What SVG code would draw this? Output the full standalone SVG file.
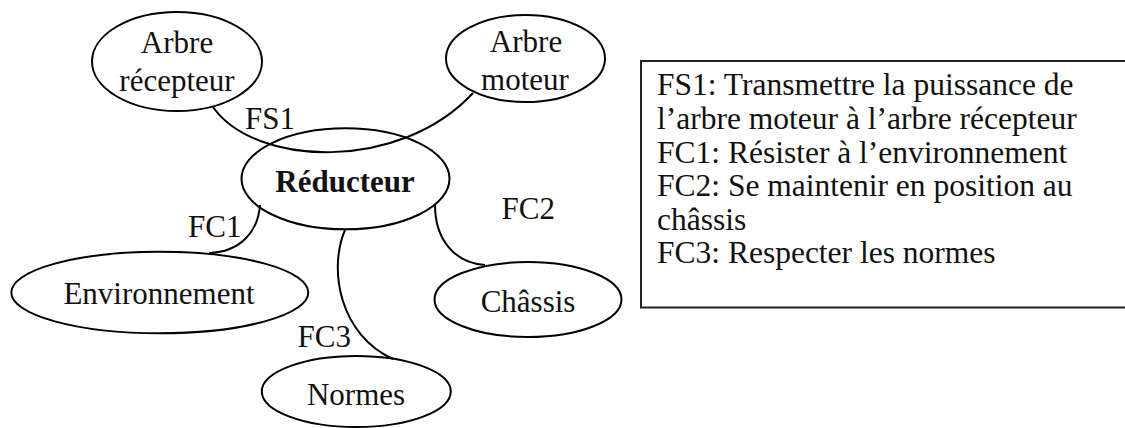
<svg xmlns="http://www.w3.org/2000/svg" width="1125" height="428" viewBox="0 0 1125 428">
<style>
.n{fill:#fff;stroke:#000;stroke-width:2}
.c{fill:none;stroke:#000;stroke-width:2}
text{font-family:"Liberation Serif","Times New Roman",serif;font-size:31px;fill:#111}
.m{text-anchor:middle}
.b{font-weight:bold}
.l{font-size:31.5px}
</style>
<rect width="1125" height="428" fill="#fff"/>
<g id="node-arbre-recepteur">
<ellipse class="n" cx="177" cy="61.5" rx="85" ry="49.5"/>
<text class="m" x="177" y="53">Arbre</text>
<text class="m" x="177" y="90.5">récepteur</text>
</g>
<g id="node-arbre-moteur">
<ellipse class="n" cx="525.5" cy="58.5" rx="79.5" ry="43.5"/>
<text class="m" x="526" y="51.5">Arbre</text>
<text class="m" x="525" y="90">moteur</text>
</g>
<g id="node-reducteur">
<ellipse class="n" cx="345.5" cy="178.8" rx="104" ry="50.5"/>
<text class="m b" x="345" y="191.5">Réducteur</text>
</g>
<g id="node-environnement">
<ellipse class="n" cx="159.8" cy="292.5" rx="148.5" ry="40.8"/>
<text class="m" x="159" y="304">Environnement</text>
</g>
<g id="node-chassis">
<ellipse class="n" cx="528" cy="299.5" rx="93.5" ry="37.5"/>
<text class="m" x="528" y="311.5">Châssis</text>
</g>
<g id="node-normes">
<ellipse class="n" cx="356.3" cy="391.5" rx="94.5" ry="35.5"/>
<text class="m" x="356" y="405">Normes</text>
</g>
<g id="connectors">
<path class="c" d="M213,107 C255,167 400,172 473,93"/>
<path class="c" d="M260,205 C258,232 240,252 209,253"/>
<path class="c" d="M435,205 C435,240 455,263 485,265"/>
<path class="c" d="M345,230 C328,270 340,335 393,359"/>
<text x="245" y="129.3">FS1</text>
<text x="188" y="236.7">FC1</text>
<text x="501.5" y="219">FC2</text>
<text x="297.5" y="346.7">FC3</text>
</g>
<g id="legend">
<rect x="641" y="61" width="520" height="246.5" fill="none" stroke="#222" stroke-width="2"/>
<text class="l" x="657" y="95">FS1: Transmettre la puissance de</text>
<text class="l" x="657" y="129">l’arbre moteur à l’arbre récepteur</text>
<text class="l" x="657" y="162.5">FC1: Résister à l’environnement</text>
<text class="l" x="657" y="196">FC2: Se maintenir en position au</text>
<text class="l" x="657" y="229.5">châssis</text>
<text class="l" x="657" y="263">FC3: Respecter les normes</text>
</g>
</svg>
